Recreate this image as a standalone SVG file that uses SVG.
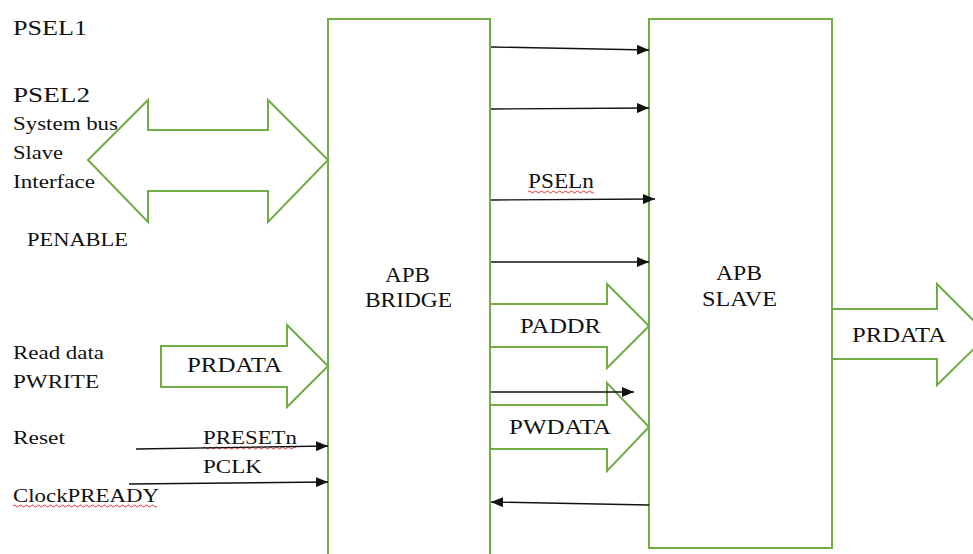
<svg xmlns="http://www.w3.org/2000/svg" width="973" height="554" viewBox="0 0 973 554" font-family="'Liberation Serif', 'Times New Roman', Times, serif">
<style>
.l{font-size:22px;fill:#111;font-family:'Liberation Serif',Times,serif;}
.s{font-size:19px;fill:#111;font-family:'Liberation Serif',Times,serif;}
.g{fill:#fff;stroke:#70AD47;stroke-width:2;stroke-linejoin:miter;}
.n{fill:none;stroke:#70AD47;stroke-width:2;}
.c{stroke:#111;stroke-width:1.4;fill:none;}
.w{stroke:#e02020;stroke-width:0.9;fill:none;}
</style>
<defs>
<marker id="ah" viewBox="0 0 12 10" refX="12" refY="5" markerWidth="12" markerHeight="10" markerUnits="userSpaceOnUse" orient="auto">
<path d="M0,0 L12,5 L0,10 Z" fill="#111"/>
</marker>
</defs>
<rect width="973" height="554" fill="#fff"/>

<g id="labels-left">
<text class="l" x="13" y="35" textLength="74" lengthAdjust="spacingAndGlyphs">PSEL1</text>
<text class="l" x="13" y="102" textLength="77" lengthAdjust="spacingAndGlyphs">PSEL2</text>
<text class="s" x="13" y="130" textLength="105" lengthAdjust="spacingAndGlyphs">System bus</text>
<text class="s" x="13" y="159" textLength="50" lengthAdjust="spacingAndGlyphs">Slave</text>
<text class="s" x="13" y="188" textLength="82" lengthAdjust="spacingAndGlyphs">Interface</text>
<text class="s" x="27" y="246" textLength="101" lengthAdjust="spacingAndGlyphs">PENABLE</text>
<text class="s" x="13" y="359" textLength="91" lengthAdjust="spacingAndGlyphs">Read data</text>
<text class="s" x="13" y="388" textLength="86" lengthAdjust="spacingAndGlyphs">PWRITE</text>
<text class="s" x="13" y="444" textLength="52" lengthAdjust="spacingAndGlyphs">Reset</text>
<text class="s" x="203" y="444" textLength="94" lengthAdjust="spacingAndGlyphs">PRESETn</text>
<text class="s" x="203" y="473" textLength="59" lengthAdjust="spacingAndGlyphs">PCLK</text>
<text class="s" x="13" y="502" textLength="146" lengthAdjust="spacingAndGlyphs">ClockPREADY</text>
<path class="w" d="M13,506 q1.5,-2 3,0 t3,0 t3,0 t3,0 t3,0 t3,0 t3,0 t3,0 t3,0 t3,0 t3,0 t3,0 t3,0 t3,0 t3,0 t3,0 t3,0 t3,0 t3,0 t3,0 t3,0 t3,0 t3,0 t3,0 t3,0 t3,0 t3,0 t3,0 t3,0 t3,0 t3,0 t3,0 t3,0 t3,0 t3,0 t3,0 t3,0 t3,0 t3,0 t3,0 t3,0 t3,0 t3,0 t3,0 t3,0 t3,0 t3,0 t3,0"/>
<path class="w" d="M203,448 q1.5,-2 3,0 t3,0 t3,0 t3,0 t3,0 t3,0 t3,0 t3,0 t3,0 t3,0 t3,0 t3,0 t3,0 t3,0 t3,0 t3,0 t3,0 t3,0 t3,0 t3,0 t3,0 t3,0 t3,0 t3,0 t3,0 t3,0 t3,0 t3,0 t3,0 t3,0 t3,0"/>
</g>

<g id="bus-arrow">
<path class="g" d="M88,160 L148,100 L148,130 L268,130 L268,100 L328,160 L268,222 L268,191 L148,191 L148,222 Z"/>
</g>

<g id="prdata-in">
<path class="g" d="M161,346 L287,346 L287,325 L328,366 L287,407 L287,387 L161,387 Z"/>
<text class="l" x="187" y="372" textLength="95" lengthAdjust="spacingAndGlyphs">PRDATA</text>
</g>

<g id="paddr-arrow">
<path class="g" d="M490,304 L607,304 L607,284 L649,326 L607,368 L607,347 L490,347"/>
<text class="l" x="520" y="333" textLength="81" lengthAdjust="spacingAndGlyphs">PADDR</text>
</g>

<g id="pwdata-arrow">
<path class="g" d="M490,405 L607,405 L607,383 L649,427 L607,471 L607,449 L490,449"/>
<text class="l" x="509" y="434" textLength="102" lengthAdjust="spacingAndGlyphs">PWDATA</text>
</g>

<g id="prdata-out">
<path class="g" d="M832,309 L937,309 L937,284 L988,335 L937,385 L937,359 L832,359"/>
<text class="l" x="852" y="342" textLength="94" lengthAdjust="spacingAndGlyphs">PRDATA</text>
</g>

<g id="apb-bridge">
<path class="n" d="M328,554 L328,19 L490,19 L490,554"/>
<text class="l" x="385" y="282" textLength="45" lengthAdjust="spacingAndGlyphs">APB</text>
<text class="l" x="365" y="307" textLength="87" lengthAdjust="spacingAndGlyphs">BRIDGE</text>
</g>

<g id="apb-slave">
<rect class="n" x="649" y="19" width="183" height="529"/>
<text class="l" x="716" y="280" textLength="46" lengthAdjust="spacingAndGlyphs">APB</text>
<text class="l" x="702" y="306" textLength="75" lengthAdjust="spacingAndGlyphs">SLAVE</text>
</g>

<g id="connectors">
<line class="c" x1="491" y1="47" x2="649" y2="50" marker-end="url(#ah)"/>
<line class="c" x1="491" y1="109" x2="649" y2="108" marker-end="url(#ah)"/>
<line class="c" x1="491" y1="200" x2="655" y2="199" marker-end="url(#ah)"/>
<line class="c" x1="491" y1="262" x2="649" y2="262" marker-end="url(#ah)"/>
<line class="c" x1="491" y1="392" x2="634" y2="392" marker-end="url(#ah)"/>
<line class="c" x1="649" y1="505" x2="491" y2="502" marker-end="url(#ah)"/>
<line class="c" x1="136" y1="449" x2="328" y2="446" marker-end="url(#ah)"/>
<line class="c" x1="129" y1="484" x2="328" y2="482" marker-end="url(#ah)"/>
</g>

<g id="pseln-label">
<text class="l" x="528" y="188" textLength="66" lengthAdjust="spacingAndGlyphs">PSELn</text>
<path class="w" d="M528,192 q1.5,-2 3,0 t3,0 t3,0 t3,0 t3,0 t3,0 t3,0 t3,0 t3,0 t3,0 t3,0 t3,0 t3,0 t3,0 t3,0 t3,0 t3,0 t3,0 t3,0 t3,0 t3,0 t3,0"/>
</g>
</svg>
